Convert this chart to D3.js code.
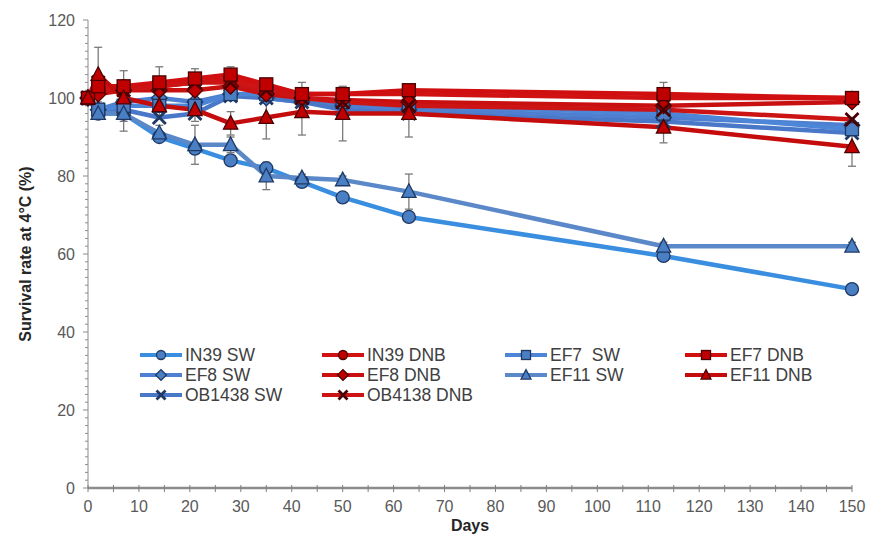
<!DOCTYPE html>
<html>
<head>
<meta charset="utf-8">
<script src="https://d3js.org/d3.v7.min.js"></script>
<style>
    body { margin: 0; background: #fff; }
    svg { background-color: white; font-family: Arial, "Liberation Sans", sans-serif; }
    .tick-label { fill: #595959; font-size: 16px; }
    .legend-text { fill: #404040; font-size: 17.5px; }
    .axis-title { fill: #262626; font-size: 16px; font-weight: bold; }
</style>
</head>
<body>
<script>
    // Sampling days
    var days = [0, 2, 7, 14, 21, 28, 35, 42, 50, 63, 113, 150];

    // Series values (survival %)
    var in39SW   = [100, 96, 96, 90, 87, 84, 82, 78.5, 74.5, 69.5, 59.5, 51];
    var ef7SW    = [100, 97, 98, 98, 98, 101, 101, 100, 99, 98, 96, 92];
    var ef8SW    = [100, 97, 99, 100, 99, 101, 100, 99, 98, 97, 95, 93];
    var ef11SW   = [100, 96, 96, 91, 88, 88, 80, 79.5, 79, 76, 62, 62];
    var ob1438SW = [100, 97, 97, 95, 96, 100.5, 100, 99, 97, 96, 94, 91];

    var in39DNB   = [100, 102, 103, 103, 104, 105, 103, 101, 101, 101, 100, 100];
    var ef7DNB    = [100, 103, 103, 104, 105, 106, 103.5, 101, 101, 102, 101, 100];
    var ef8DNB    = [100, 101, 102, 102, 102, 103, 101, 100, 99.5, 99, 98, 99];
    var ef11DNB   = [100, 106, 100, 98, 97, 93.5, 95, 96.5, 96, 96, 92.5, 87.5];
    var ob4138DNB = [100, 104, 102, 103, 104, 104, 102, 100, 99, 98, 97, 94.5];

    // Error bars (0 = none drawn)
    var in39SWErr  = [0, 1, 4.5, 1, 1, 1, 1, 1, 1, 1, 1, 1];
    var ef11SWErr  = [0, 1, 2, 2, 5, 2, 3.5, 1, 1, 4.5, 1, 1];
    var ef7DNBErr  = [0, 2, 4, 4, 2.5, 2, 1, 3, 1, 1, 3, 1];
    var ef11DNBErr = [0, 7, 3, 3, 3, 3, 5.5, 6, 7, 6, 4, 5];

    // Axis ticks
    var xTicks = d3.range(0, 151, 10);
    var yTicks = [0, 20, 40, 60, 80, 100, 120];

    var blueFill = "#4a7fc4", blueEdge = "#1f3864";
    var redFill = "#c00000", redEdge = "#4a0000";

    // legend layout: columns and rows as in picture
    var series = [
        {name: "IN39 SW", values: in39SW, err: in39SWErr, kind: "SW", sym: "circle", line: "#3a8ee0", col: 0, row: 0},
        {name: "EF8 SW", values: ef8SW, err: null, kind: "SW", sym: "diamond", line: "#4f7fd0", col: 0, row: 1},
        {name: "OB1438 SW", values: ob1438SW, err: null, kind: "SW", sym: "cross", line: "#4a78c8", col: 0, row: 2},
        {name: "IN39 DNB", values: in39DNB, err: null, kind: "DNB", sym: "circle", line: "#d01212", col: 1, row: 0},
        {name: "EF8 DNB", values: ef8DNB, err: null, kind: "DNB", sym: "diamond", line: "#c81010", col: 1, row: 1},
        {name: "OB4138 DNB", values: ob4138DNB, err: null, kind: "DNB", sym: "cross", line: "#cc1414", col: 1, row: 2},
        {name: "EF7  SW", values: ef7SW, err: null, kind: "SW", sym: "square", line: "#4d86d6", col: 2, row: 0},
        {name: "EF11 SW", values: ef11SW, err: ef11SWErr, kind: "SW", sym: "triangle", line: "#5a88c8", col: 2, row: 1},
        {name: "EF7 DNB", values: ef7DNB, err: ef7DNBErr, kind: "DNB", sym: "square", line: "#d01010", col: 3, row: 0},
        {name: "EF11 DNB", values: ef11DNB, err: ef11DNBErr, kind: "DNB", sym: "triangle", line: "#c40c0c", col: 3, row: 1}
    ];

    var SVGWidth = 871, SVGHeight = 538;

    var x = d3.scaleLinear().domain([0, 150]).range([88, 852]);
    var y = d3.scaleLinear().domain([0, 120]).range([488, 20]);

    var svg = d3.select("body").append("svg")
        .attr("width", SVGWidth)
        .attr("height", SVGHeight);

    // Axes
    var axisG = svg.append("g");
    axisG.append("line")
        .attr("x1", x(0)).attr("x2", x(0))
        .attr("y1", y(120)).attr("y2", y(0))
        .attr("stroke", "#8c8c8c").attr("stroke-width", 1);
    axisG.append("line")
        .attr("x1", x(0)).attr("x2", x(150))
        .attr("y1", y(0)).attr("y2", y(0))
        .attr("stroke", "#8c8c8c").attr("stroke-width", 2.5);

    // y ticks: minor every 2, major every 20
    axisG.selectAll(".ymin")
        .data(d3.range(0, 121, 2))
        .enter().append("line")
        .attr("x1", function(d) { return x(0) - (d % 20 === 0 ? 5 : 3); })
        .attr("x2", x(0))
        .attr("y1", function(d) { return y(d); })
        .attr("y2", function(d) { return y(d); })
        .attr("stroke", "#8c8c8c").attr("stroke-width", 1);

    // x ticks every 5 (crossing)
    axisG.selectAll(".xmin")
        .data(d3.range(0, 151, 5))
        .enter().append("line")
        .attr("x1", function(d) { return x(d); })
        .attr("x2", function(d) { return x(d); })
        .attr("y1", y(0) - 3)
        .attr("y2", y(0) + 4)
        .attr("stroke", "#7f7f7f").attr("stroke-width", 1);

    axisG.selectAll(".ylab")
        .data(yTicks)
        .enter().append("text")
        .attr("class", "tick-label")
        .attr("x", x(0) - 13)
        .attr("y", function(d) { return y(d); })
        .attr("dy", "0.35em")
        .attr("text-anchor", "end")
        .text(function(d) { return d; });

    axisG.selectAll(".xlab")
        .data(xTicks)
        .enter().append("text")
        .attr("class", "tick-label")
        .attr("x", function(d) { return x(d); })
        .attr("y", 512)
        .attr("text-anchor", "middle")
        .text(function(d) { return d; });

    svg.append("text")
        .attr("class", "axis-title")
        .attr("x", 470).attr("y", 531)
        .attr("text-anchor", "middle")
        .text("Days");

    svg.append("text")
        .attr("class", "axis-title")
        .attr("transform", "translate(31," + y(60) + ") rotate(-90)")
        .attr("text-anchor", "middle")
        .text("Survival rate at 4°C (%)");

    // Marker drawing
    function drawMarker(g, sym, cx, cy, s, fill, edge) {
        if (sym === "circle") {
            g.append("circle").attr("cx", cx).attr("cy", cy).attr("r", s)
                .attr("fill", fill).attr("stroke", edge).attr("stroke-width", 1.3);
        } else if (sym === "square") {
            g.append("rect").attr("x", cx - s).attr("y", cy - s)
                .attr("width", 2 * s).attr("height", 2 * s)
                .attr("fill", fill).attr("stroke", edge).attr("stroke-width", 1.3);
        } else if (sym === "diamond") {
            g.append("path")
                .attr("d", "M" + cx + "," + (cy - s * 1.2) + "L" + (cx + s * 1.2) + "," + cy +
                    "L" + cx + "," + (cy + s * 1.2) + "L" + (cx - s * 1.2) + "," + cy + "Z")
                .attr("fill", fill).attr("stroke", edge).attr("stroke-width", 1.3);
        } else if (sym === "triangle") {
            g.append("path")
                .attr("d", "M" + cx + "," + (cy - s * 1.2) + "L" + (cx + s * 1.1) + "," + (cy + s * 0.9) +
                    "L" + (cx - s * 1.1) + "," + (cy + s * 0.9) + "Z")
                .attr("fill", fill).attr("stroke", edge).attr("stroke-width", 1.3);
        } else if (sym === "cross") {
            g.append("path")
                .attr("d", "M" + (cx - s) + "," + (cy - s) + "L" + (cx + s) + "," + (cy + s) +
                    "M" + (cx + s) + "," + (cy - s) + "L" + (cx - s) + "," + (cy + s))
                .attr("stroke", edge).attr("stroke-width", 2.8);
        }
    }

    // Error bars
    var errG = svg.append("g");
    series.forEach(function(s) {
        if (!s.err) return;
        s.values.forEach(function(v, i) {
            var e = s.err[i];
            if (!e) return;
            var cx = x(days[i]);
            errG.append("line")
                .attr("x1", cx).attr("x2", cx)
                .attr("y1", y(v + e)).attr("y2", y(v - e))
                .attr("stroke", "#7a7a7a").attr("stroke-width", 1.3);
            [v + e, v - e].forEach(function(t) {
                errG.append("line")
                    .attr("x1", cx - 4).attr("x2", cx + 4)
                    .attr("y1", y(t)).attr("y2", y(t))
                    .attr("stroke", "#7a7a7a").attr("stroke-width", 1.3);
            });
        });
    });

    // Lines, drawing SW first then DNB on top
    var line = d3.line()
        .x(function(d, i) { return x(days[i]); })
        .y(function(d) { return y(d); });

    var drawOrder = series.filter(function(s) { return s.kind === "SW"; })
        .concat(series.filter(function(s) { return s.kind === "DNB"; }));

    var lineG = svg.append("g");
    drawOrder.forEach(function(s) {
        lineG.append("path")
            .datum(s.values)
            .attr("d", line)
            .attr("fill", "none")
            .attr("stroke", s.line)
            .attr("stroke-width", 4.5)
            .attr("stroke-linejoin", "round");
    });

    var markG = svg.append("g");
    drawOrder.forEach(function(s) {
        var fill = s.kind === "SW" ? blueFill : redFill;
        var edge = s.kind === "SW" ? blueEdge : redEdge;
        s.values.forEach(function(v, i) {
            drawMarker(markG, s.sym, x(days[i]), y(v), 6.5, fill, edge);
        });
    });

    // Legend
    var colX = [140, 322, 505, 685];
    var rowY = [355, 375, 395];
    var legG = svg.append("g");
    series.forEach(function(s) {
        var lx = colX[s.col], ly = rowY[s.row];
        var fill = s.kind === "SW" ? blueFill : redFill;
        var edge = s.kind === "SW" ? blueEdge : redEdge;
        legG.append("line")
            .attr("x1", lx).attr("x2", lx + 42)
            .attr("y1", ly).attr("y2", ly)
            .attr("stroke", s.line).attr("stroke-width", 4);
        drawMarker(legG, s.sym, lx + 21, ly, 4.5, fill, edge);
        legG.append("text")
            .attr("class", "legend-text")
            .attr("x", lx + 45)
            .attr("y", ly)
            .attr("dy", "0.36em")
            .style("white-space", "pre")
            .text(s.name);
    });
</script>
</body>
</html>
